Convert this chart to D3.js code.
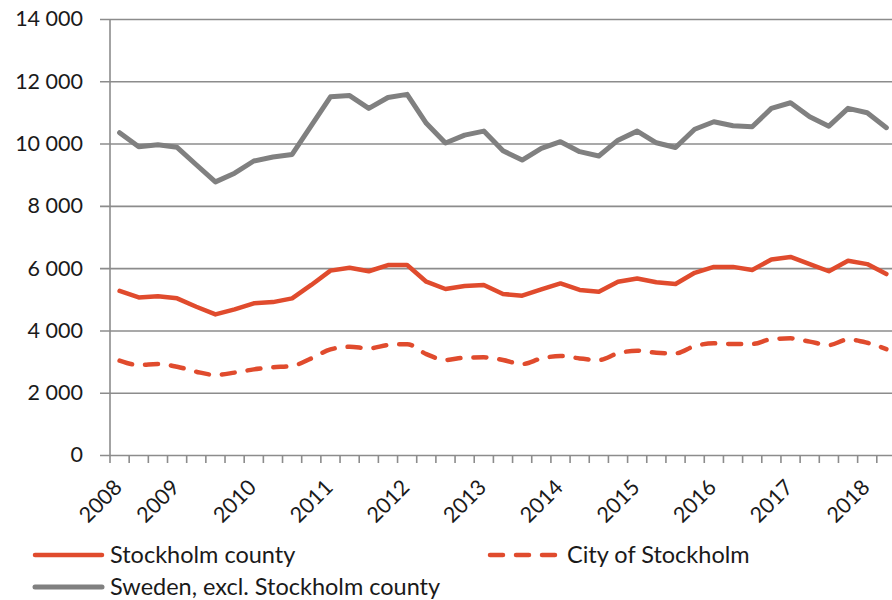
<!DOCTYPE html>
<html>
<head>
<meta charset="utf-8">
<script src="https://cdn.jsdelivr.net/npm/d3@7"></script>
<style>
	body { margin: 0; background: #fff; }
	svg text { font-family: Lato, "Open Sans", sans-serif; fill: #1a1a1a; }
</style>
</head>
<body>
<svg id="chart" width="892" height="600"></svg>
<script>

// quarterly periods, first quarter of each year gets a year label
const QUARTERS = [
	'2008 Q2', '2008 Q3', '2008 Q4',
	'2009 Q1', '2009 Q2', '2009 Q3', '2009 Q4',
	'2010 Q1', '2010 Q2', '2010 Q3', '2010 Q4',
	'2011 Q1', '2011 Q2', '2011 Q3', '2011 Q4',
	'2012 Q1', '2012 Q2', '2012 Q3', '2012 Q4',
	'2013 Q1', '2013 Q2', '2013 Q3', '2013 Q4',
	'2014 Q1', '2014 Q2', '2014 Q3', '2014 Q4',
	'2015 Q1', '2015 Q2', '2015 Q3', '2015 Q4',
	'2016 Q1', '2016 Q2', '2016 Q3', '2016 Q4',
	'2017 Q1', '2017 Q2', '2017 Q3', '2017 Q4',
	'2018 Q1', '2018 Q2'
];
const YEAR_LABELS = ['2008', '2009', '2010', '2011', '2012', '2013', '2014', '2015', '2016', '2017', '2018'];
const Y_TICKS = [0, 2000, 4000, 6000, 8000, 10000, 12000, 14000];

const STOCKHOLM_COUNTY = [5270, 5060, 5100, 5030, 4760, 4515, 4675, 4870, 4910, 5030, 5460,
	5920, 6010, 5900, 6100, 6100, 5565, 5330, 5425, 5460, 5170, 5115, 5320, 5510, 5300, 5245,
	5565, 5670, 5545, 5490, 5850, 6040, 6040, 5940, 6280, 6360, 6130, 5900, 6235, 6130, 5810];
const CITY_OF_STOCKHOLM = [3030, 2890, 2920, 2835, 2675, 2570, 2645, 2750, 2815, 2860, 3100,
	3390, 3475, 3425, 3530, 3560, 3240, 3050, 3125, 3135, 3050, 2920, 3100, 3180, 3100, 3050,
	3265, 3350, 3285, 3265, 3500, 3585, 3565, 3565, 3720, 3745, 3640, 3530, 3710, 3605, 3400];
const SWEDEN_EXCL = [10350, 9900, 9960, 9880, 9320, 8770, 9050, 9440, 9570, 9650, 10580,
	11500, 11540, 11130, 11480, 11580, 10650, 10020, 10270, 10400, 9770, 9470, 9845, 10060, 9740, 9600,
	10110, 10400, 10025, 9875, 10460, 10700, 10570, 10540, 11130, 11310, 10860, 10560, 11130, 10990, 10510];

const RED = '#e04b2d';
const GREY = '#808080';
const AXIS = '#8c8c8c';

const svg = d3.select('#chart');

const x = d3.scaleBand()
	.domain(QUARTERS)
	.range([110, 110 + QUARTERS.length * 19.17]);
const y = d3.scaleLinear()
	.domain([0, 14000])
	.range([455, 19]);

const fmt = (v) => d3.format(',')(v).replace(',', ' ');

// y axis + gridlines
const yAxis = d3.axisLeft(y)
	.tickValues(Y_TICKS)
	.tickSize(-(892 - 110))
	.tickPadding(27)
	.tickFormat(fmt);
const gy = svg.append('g')
	.attr('transform', 'translate(110,0)')
	.call(yAxis);
gy.select('.domain').remove();
gy.selectAll('.tick line')
	.attr('x1', -10)
	.attr('stroke', AXIS)
	.attr('stroke-width', 1.6);
gy.selectAll('.tick text')
	.style('font-size', '21.5px');

svg.append('line')
	.attr('x1', 110).attr('x2', 110)
	.attr('y1', y(14000)).attr('y2', y(0))
	.attr('stroke', AXIS)
	.attr('stroke-width', 1.6);

// x axis, ticks between categories
svg.append('g')
	.selectAll('line')
	.data(QUARTERS)
	.enter()
	.append('line')
	.attr('x1', (d) => x(d))
	.attr('x2', (d) => x(d))
	.attr('y1', y(0))
	.attr('y2', y(0) + 8)
	.attr('stroke', AXIS)
	.attr('stroke-width', 1.6);

const firstOfYear = YEAR_LABELS.map((yr) => QUARTERS.find((q) => q.startsWith(yr)));
svg.append('g')
	.selectAll('text')
	.data(firstOfYear)
	.enter()
	.append('text')
	.attr('transform', (d) => `translate(${x(d) + x.bandwidth() / 2 - 7},${y(0) + 23}) rotate(-45)`)
	.attr('text-anchor', 'end')
	.attr('dy', '0.71em')
	.style('font-size', '21.5px')
	.text((d) => d.slice(0, 4));

// lines
const cx = (i) => x(QUARTERS[i]) + x.bandwidth() / 2;
const line = d3.line()
	.x((d, i) => cx(i))
	.y((d) => y(d));

svg.append('path')
	.datum(SWEDEN_EXCL)
	.attr('d', line)
	.attr('fill', 'none')
	.attr('stroke', GREY)
	.attr('stroke-width', 5)
	.attr('stroke-linejoin', 'round')
	.attr('stroke-linecap', 'round');

svg.append('path')
	.datum(STOCKHOLM_COUNTY)
	.attr('d', line)
	.attr('fill', 'none')
	.attr('stroke', RED)
	.attr('stroke-width', 4.5)
	.attr('stroke-linejoin', 'round')
	.attr('stroke-linecap', 'round');

svg.append('path')
	.datum(CITY_OF_STOCKHOLM)
	.attr('d', line.curve(d3.curveMonotoneX))
	.attr('fill', 'none')
	.attr('stroke', RED)
	.attr('stroke-width', 4.5)
	.attr('stroke-dasharray', '13,13')
	.attr('stroke-linecap', 'round');

// legend
const legend = [
	{ name: 'Stockholm county', color: RED, dash: null, w: 4.5, lx: 35, ly: 555 },
	{ name: 'City of Stockholm', color: RED, dash: '13,13', w: 4.5, lx: 490, ly: 555 },
	{ name: 'Sweden, excl. Stockholm county', color: GREY, dash: null, w: 5, lx: 35, ly: 587 }
];
const lg = svg.append('g')
	.selectAll('g')
	.data(legend)
	.enter()
	.append('g')
	.attr('transform', (d) => `translate(${d.lx},${d.ly})`);
lg.append('line')
	.attr('x1', 0).attr('x2', 67)
	.attr('stroke', (d) => d.color)
	.attr('stroke-width', (d) => d.w)
	.attr('stroke-linecap', 'round')
	.attr('stroke-dasharray', (d) => d.dash);
lg.append('text')
	.attr('x', (d) => d.dash ? 77 : 75)
	.attr('dy', '0.35em')
	.style('font-size', '23.5px')
	.text((d) => d.name);
</script>
</body>
</html>
